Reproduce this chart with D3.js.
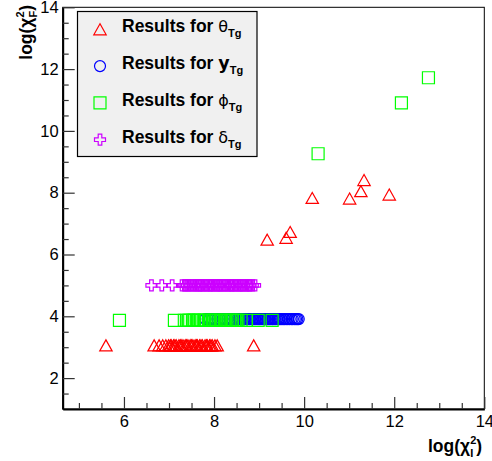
<!DOCTYPE html>
<html>
<head>
<meta charset="utf-8">
<script src="https://cdn.jsdelivr.net/npm/d3@7"></script>
<style>
  body { margin: 0; background: #fff; }
  text { font-family: "Liberation Sans", Arial, sans-serif; }
</style>
</head>
<body>
<svg id="chart"></svg>
<script>
// theta_Tg results (red triangles)
const thetaX = [5.6, 6.67, 6.78, 6.86, 6.93, 6.99, 7.03, 7.05, 7.1, 7.13, 7.16, 7.22, 7.25, 7.27, 7.31, 7.36, 7.39, 7.42, 7.47, 7.5, 7.53, 7.58, 7.61, 7.63,
                7.68, 7.71, 7.74, 7.8, 7.83, 7.85, 7.9, 7.93, 7.96, 8.02, 8.07, 8.88,
                9.18, 9.6, 9.69, 10.18, 11.01, 11.26, 11.33, 11.89];
const thetaY = [3.06, 3.06, 3.06, 3.06, 3.06, 3.06, 3.06, 3.06, 3.06, 3.06, 3.06, 3.06, 3.06, 3.06, 3.06, 3.06, 3.06, 3.06, 3.06, 3.06, 3.06, 3.06, 3.06, 3.06,
                3.06, 3.06, 3.06, 3.06, 3.06, 3.06, 3.06, 3.06, 3.06, 3.06, 3.06, 3.06,
                6.48, 6.54, 6.73, 7.83, 7.81, 8.05, 8.41, 7.94];

// y_Tg results (blue circles)
const yX = [7.81, 7.86, 7.91, 7.97, 8.02, 8.08, 8.13, 8.19, 8.24, 8.3, 8.35, 8.41, 8.46, 8.52, 8.55, 8.57, 8.6, 8.63, 8.66, 8.68, 8.71, 8.74, 8.77,
            8.79, 8.82, 8.85, 8.87, 8.9, 8.93, 8.96, 8.99, 9.01, 9.04, 9.07, 9.1, 9.12, 9.15, 9.18, 9.2, 9.23, 9.26, 9.29, 9.31, 9.34, 9.37,
            9.4, 9.43, 9.46, 9.49, 9.53, 9.56, 9.6, 9.64, 9.68, 9.72, 9.75, 9.79, 9.82, 9.85, 9.88];
const yY = yX.map(() => 3.91);

// phi_Tg results (green squares)
const phiX = [5.9, 7.12, 7.34, 7.4, 7.43, 7.46, 7.52, 7.55, 7.57, 7.63, 7.66, 7.7, 7.76, 7.79, 7.82, 7.88, 7.91, 7.93, 7.99, 8.02, 8.05, 8.11, 8.14,
              8.17, 8.23, 8.26, 8.29, 8.35, 8.38, 8.41, 8.47, 8.5, 8.53, 8.6, 8.72, 8.98, 9.29,
              10.31, 12.16, 12.76];
const phiY = [3.87, 3.87, 3.87, 3.87, 3.87, 3.87, 3.87, 3.87, 3.87, 3.87, 3.87, 3.87, 3.87, 3.87, 3.87, 3.87, 3.87, 3.87, 3.87, 3.87, 3.87, 3.87, 3.87,
              3.87, 3.87, 3.87, 3.87, 3.87, 3.87, 3.87, 3.87, 3.87, 3.87, 3.87, 3.87, 3.87, 3.87,
              9.26, 10.91, 11.72];

// delta_Tg results (violet crosses)
const deltaX = [6.61, 6.84, 7.07, 7.29, 7.34, 7.37, 7.4, 7.44, 7.47, 7.5, 7.55, 7.58, 7.61, 7.65, 7.68, 7.7, 7.73, 7.76, 7.8, 7.83, 7.86, 7.9, 7.92,
                7.95, 7.98, 8.01, 8.05, 8.08, 8.11, 8.13, 8.16, 8.2, 8.23, 8.26, 8.3, 8.33, 8.36, 8.39, 8.41, 8.45, 8.48, 8.51, 8.55, 8.58,
                8.6, 8.63, 8.66, 8.7, 8.73, 8.76, 8.79, 8.81, 8.86, 8.91];
const deltaY = deltaX.map(() => 5.0);

const xMajor = [6, 8, 10, 12, 14];
const yMajor = [2, 4, 6, 8, 10, 12, 14];

const legendGreek = ["\u03b8", "y", "\u03d5", "\u03b4"];

let width = 492, height = 461;

const svg = d3.select("#chart")
    .attr("width", width)
    .attr("height", height);

const x = d3.scaleLinear().domain([4.64, 14]).range([62.7, 484.3]);
const y = d3.scaleLinear().domain([1, 14]).range([409, 7.3]);

// frame
svg.append("rect")
    .attr("x", x(4.64))
    .attr("y", y(14))
    .attr("width", x(14) - x(4.64))
    .attr("height", y(1) - y(14))
    .attr("fill", "none")
    .attr("stroke", "#000")
    .attr("stroke-width", 1);

// markers
const triPath = "M0,-5.5L-6.2,5.5L6.2,5.5Z";
const squarePath = "M-6,-6H6V6H-6Z";
const crossPath = "M-1.8,-5.5H1.8V-1.8H5.5V1.8H1.8V5.5H-1.8V1.8H-5.5V-1.8H-1.8Z";

function drawSeries(xs, ys, color, kind) {
    const g = svg.append("g");
    const pts = xs.map((v, i) => [v, ys[i]]);
    if (kind === "circle") {
        g.selectAll("circle")
            .data(pts)
            .enter()
            .append("circle")
            .attr("cx", d => x(d[0]))
            .attr("cy", d => y(d[1]))
            .attr("r", 5.5)
            .attr("fill", "none")
            .attr("stroke", color)
            .attr("stroke-width", 1.2);
    } else {
        const p = kind === "tri" ? triPath : kind === "square" ? squarePath : crossPath;
        g.selectAll("path")
            .data(pts)
            .enter()
            .append("path")
            .attr("d", p)
            .attr("transform", d => `translate(${x(d[0])},${y(d[1])})`)
            .attr("fill", "none")
            .attr("stroke", color)
            .attr("stroke-width", 1.2);
    }
}

drawSeries(thetaX, thetaY, "#ff0000", "tri");
drawSeries(yX, yY, "#0000ff", "circle");
drawSeries(phiX, phiY, "#00ff00", "square");
drawSeries(deltaX, deltaY, "#cc00ff", "cross");

// axes
svg.append("g")
    .attr("transform", `translate(0,${y(1)})`)
    .call(d3.axisBottom(x).tickValues(xMajor).tickSizeInner(-12).tickSizeOuter(0).tickPadding(6).tickFormat(d3.format("d")));
svg.append("g")
    .attr("transform", `translate(0,${y(1)})`)
    .call(d3.axisBottom(x).tickValues(d3.range(5, 14.01, 0.5).filter(v => xMajor.indexOf(v) < 0)).tickSizeInner(-6).tickSizeOuter(0).tickFormat(""))
    .select(".domain").remove();

svg.append("g")
    .attr("transform", `translate(${x(4.64)},0)`)
    .call(d3.axisLeft(y).tickValues(yMajor).tickSizeInner(-12).tickSizeOuter(0).tickPadding(4).tickFormat(d3.format("d")));
svg.append("g")
    .attr("transform", `translate(${x(4.64)},0)`)
    .call(d3.axisLeft(y).tickValues(d3.range(1.5, 14, 0.5).filter(v => yMajor.indexOf(v) < 0)).tickSizeInner(-6).tickSizeOuter(0).tickFormat(""))
    .select(".domain").remove();

svg.selectAll(".domain").attr("stroke", "#000").attr("stroke-width", 2);
svg.selectAll(".tick line").attr("stroke", "#333").attr("stroke-width", 1.2);
svg.selectAll(".tick text")
    .attr("font-family", "Liberation Sans, Arial, sans-serif")
    .attr("font-size", 16.5)
    .attr("fill", "#000");

// axis titles
const xt = svg.append("text")
    .attr("x", 428)
    .attr("y", 452)
    .attr("font-size", 17.5)
    .attr("font-weight", "bold");
xt.append("tspan").text("log(\u03c7");
xt.append("tspan").attr("font-size", 11).attr("dy", -8).text("2");
xt.append("tspan").attr("font-size", 11).attr("dx", -6.1).attr("dy", 13).text("I");
xt.append("tspan").attr("dx", 3).attr("dy", -5).text(")");

const yt = svg.append("text")
    .attr("transform", "translate(32,5) rotate(-90)")
    .attr("text-anchor", "end")
    .attr("font-size", 17.5)
    .attr("font-weight", "bold");
yt.append("tspan").text("log(\u03c7");
yt.append("tspan").attr("font-size", 11).attr("dy", -8).text("2");
yt.append("tspan").attr("font-size", 11).attr("dx", -6.1).attr("dy", 13).text("F");
yt.append("tspan").attr("dx", 0).attr("dy", -5).text(")");

// legend
svg.append("rect")
    .attr("x", 77.5)
    .attr("y", 11.5)
    .attr("width", 179.5)
    .attr("height", 145)
    .attr("fill", "#f0f0f0")
    .attr("stroke", "#000")
    .attr("stroke-width", 1.2);

const legendColors = ["#ff0000", "#0000ff", "#00ff00", "#cc00ff"];
const legendKinds = ["tri", "circle", "square", "cross"];

legendGreek.forEach((gr, i) => {
    const base = 32.3 + i * 36.8;
    const cy = base - 3;
    if (legendKinds[i] === "circle") {
        svg.append("circle").attr("cx", 100).attr("cy", cy).attr("r", 5.5)
            .attr("fill", "none").attr("stroke", legendColors[i]).attr("stroke-width", 1.2);
    } else {
        const p = legendKinds[i] === "tri" ? triPath : legendKinds[i] === "square" ? squarePath : crossPath;
        svg.append("path").attr("d", p).attr("transform", `translate(100,${cy})`)
            .attr("fill", "none").attr("stroke", legendColors[i]).attr("stroke-width", 1.2);
    }
    const t = svg.append("text")
        .attr("x", 122)
        .attr("y", base)
        .attr("font-size", 17.5)
        .attr("font-weight", "bold");
    t.append("tspan").text("Results for ");
    t.append("tspan")
        .attr("font-weight", gr === "y" ? "bold" : "normal")
        .attr("font-family", "DejaVu Sans, sans-serif")
        .attr("font-size", gr === "y" ? 17.5 : 16)
        .text(gr);
    t.append("tspan").attr("font-size", 11).attr("dy", 5).text("Tg");
});
</script>
</body>
</html>
